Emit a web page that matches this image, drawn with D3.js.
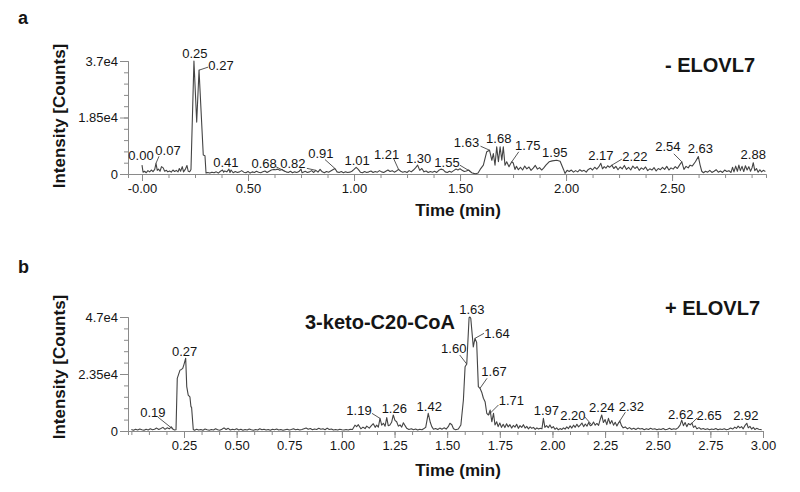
<!DOCTYPE html>
<html>
<head>
<meta charset="utf-8">
<title>ELOVL7 chromatograms</title>
<style>
  body { margin: 0; background: #fff; }
  svg text { font-family: "Liberation Sans", Arial, sans-serif; }
</style>
</head>
<body>
<svg id="chart" width="800" height="492"></svg>
<script src="https://cdn.jsdelivr.net/npm/d3@7"></script>
<script>
// ---- data: [time (min), intensity (counts)] ----
var traceA = [
  [0.000,2900],[0.005,600],[0.012,900],[0.020,400],[0.028,1100],[0.036,700],[0.044,1300],[0.052,800],[0.060,1500],[0.066,3500],
  [0.072,1200],[0.078,1600],[0.085,900],[0.092,2400],[0.100,2000],[0.107,900],[0.115,1200],[0.122,700],[0.130,1000],[0.138,600],
  [0.146,1300],[0.154,800],[0.162,1200],[0.170,700],[0.176,1800],[0.182,900],[0.190,2400],[0.196,700],[0.204,1500],[0.212,2800],
  [0.218,900],[0.225,700],[0.231,1500],[0.245,37000],[0.258,17000],[0.269,34000],[0.289,6200],[0.297,6000],[0.302,300],
  [0.310,500],[0.320,300],[0.330,600],[0.340,400],[0.350,700],[0.360,300],[0.370,900],[0.380,1300],[0.385,600],[0.390,1000],
  [0.400,700],[0.410,1600],[0.415,500],[0.420,1300],[0.430,400],[0.440,800],[0.450,500],[0.460,700],[0.470,1100],[0.480,600],
  [0.490,400],[0.500,800],[0.510,300],[0.520,700],[0.530,500],[0.540,900],[0.550,600],[0.560,400],[0.570,700],[0.580,1000],
  [0.590,500],[0.600,900],[0.610,1300],[0.620,1500],[0.630,1400],[0.640,1600],[0.650,1200],[0.660,1500],[0.670,1000],[0.680,700],
  [0.690,500],[0.700,900],[0.710,400],[0.720,700],[0.730,500],[0.740,800],[0.750,1600],[0.755,400],[0.760,600],[0.770,900],
  [0.780,500],[0.790,700],[0.800,1100],[0.810,500],[0.820,1200],[0.830,600],[0.840,1500],[0.850,700],[0.860,400],[0.870,800],
  [0.880,600],[0.890,1000],[0.900,1400],[0.910,1800],[0.920,700],[0.930,500],[0.940,800],[0.950,400],[0.960,700],[0.970,500],
  [0.980,600],[0.990,900],[1.000,1500],[1.010,2200],[1.020,1500],[1.030,600],[1.040,400],[1.050,800],[1.060,500],[1.070,700],
  [1.080,1000],[1.090,500],[1.100,800],[1.110,600],[1.120,1100],[1.130,700],[1.140,500],[1.150,900],[1.160,1300],[1.170,800],
  [1.180,1100],[1.190,600],[1.200,1000],[1.210,1500],[1.220,900],[1.230,600],[1.240,800],[1.250,500],[1.260,1100],[1.270,700],
  [1.280,1300],[1.290,2000],[1.300,2900],[1.310,1200],[1.320,1800],[1.330,700],[1.340,1000],[1.350,500],[1.360,800],[1.370,600],
  [1.380,900],[1.390,500],[1.400,1200],[1.410,1600],[1.420,1400],[1.430,700],[1.440,500],[1.450,900],[1.460,600],[1.470,1100],
  [1.480,1600],[1.490,1300],[1.500,1700],[1.510,1200],[1.520,800],[1.530,1000],[1.540,1300],[1.547,900],[1.555,400],[1.565,200],
  [1.575,100],[1.585,300],[1.595,1500],[1.610,2900],[1.626,7300],[1.639,7800],[1.650,4500],[1.657,6700],[1.665,2900],[1.673,8900],
  [1.681,4000],[1.689,8900],[1.697,4500],[1.704,8900],[1.712,2900],[1.720,4000],[1.731,2400],[1.737,3200],[1.744,4000],[1.751,3600],
  [1.759,1500],[1.766,2500],[1.775,1400],[1.785,2200],[1.795,1300],[1.805,2600],[1.815,1700],[1.825,2300],[1.835,1200],[1.845,1900],
  [1.855,2800],[1.865,1600],[1.875,2100],[1.885,1300],[1.895,2000],[1.905,2900],[1.920,4000],[1.935,4300],[1.956,4500],[1.972,4200],
  [1.988,1500],[1.995,200],[2.005,1200],[2.015,800],[2.025,1300],[2.035,600],[2.045,1100],[2.055,700],[2.065,1400],[2.075,900],
  [2.085,1200],[2.095,600],[2.105,1500],[2.115,1900],[2.125,1300],[2.135,2200],[2.145,1600],[2.155,2400],[2.164,3500],[2.172,1700],
  [2.180,2400],[2.188,1900],[2.196,2700],[2.205,2200],[2.216,2900],[2.225,1800],[2.235,2500],[2.245,1400],[2.255,2300],[2.265,1700],
  [2.275,2800],[2.285,1500],[2.295,2200],[2.305,1300],[2.315,2600],[2.325,1800],[2.335,2400],[2.345,1200],[2.355,2000],[2.365,1500],
  [2.375,2300],[2.385,1100],[2.395,1700],[2.405,1300],[2.415,2100],[2.425,1000],[2.435,1800],[2.445,1400],[2.455,2200],[2.465,1500],
  [2.475,2500],[2.485,1300],[2.495,2000],[2.505,1600],[2.515,2400],[2.525,1800],[2.535,2900],[2.546,4000],[2.556,1500],[2.566,2500],
  [2.576,2000],[2.585,2900],[2.595,2600],[2.610,4000],[2.624,5700],[2.632,3000],[2.640,900],[2.648,400],[2.658,900],[2.668,600],
  [2.678,1200],[2.688,500],[2.698,900],[2.708,1400],[2.718,600],[2.728,1000],[2.738,500],[2.748,1300],[2.758,800],[2.768,1100],
  [2.778,500],[2.785,2200],[2.792,700],[2.800,2600],[2.808,900],[2.815,2900],[2.822,1100],[2.830,2500],[2.838,800],[2.846,2700],
  [2.854,1300],[2.862,2400],[2.870,900],[2.877,2000],[2.883,3700],[2.890,1100],[2.898,1800],[2.906,600],[2.914,1400],[2.922,700],
  [2.930,1200],[2.940,800]
];

var traceB = [
  [0.000,600],[0.010,300],[0.020,700],[0.030,400],[0.040,800],[0.050,500],[0.060,300],[0.070,700],[0.080,400],[0.090,900],
  [0.100,500],[0.110,700],[0.120,1200],[0.130,600],[0.140,1000],[0.150,1500],[0.160,700],[0.170,1300],[0.180,900],[0.190,1700],
  [0.197,800],[0.205,400],[0.212,500],[0.218,21700],[0.231,25100],[0.238,25400],[0.244,25800],[0.250,27500],[0.258,30000],[0.263,18300],
  [0.270,14800],[0.278,14100],[0.283,10000],[0.286,9800],[0.294,600],[0.300,300],
  [0.310,700],[0.320,400],[0.330,600],[0.340,300],[0.350,800],[0.360,500],[0.370,300],[0.380,600],[0.390,400],[0.400,900],
  [0.410,500],[0.420,300],[0.430,700],[0.440,1300],[0.450,600],[0.460,1100],[0.470,400],[0.480,700],[0.490,500],[0.500,900],
  [0.510,400],[0.520,700],[0.530,300],[0.540,600],[0.550,400],[0.560,800],[0.570,500],[0.580,300],[0.590,600],[0.600,400],
  [0.610,900],[0.620,500],[0.630,700],[0.640,400],[0.650,600],[0.660,300],[0.670,700],[0.680,500],[0.690,800],[0.700,400],
  [0.710,600],[0.720,300],[0.730,500],[0.740,700],[0.750,400],[0.760,600],[0.770,900],[0.780,500],[0.790,700],[0.800,400],
  [0.810,600],[0.820,900],[0.830,1200],[0.840,700],[0.850,1000],[0.860,500],[0.870,800],[0.880,600],[0.890,1100],[0.900,700],
  [0.910,900],[0.920,500],[0.930,1200],[0.940,600],[0.950,800],[0.960,400],[0.970,600],[0.980,400],[0.990,700],[1.000,500],
  [1.010,400],[1.020,600],[1.030,400],[1.040,700],[1.050,600],[1.062,2400],[1.070,1800],[1.078,2600],[1.090,900],[1.100,1600],
  [1.110,1000],[1.118,2000],[1.130,1200],[1.140,2200],[1.149,3000],[1.158,1500],[1.165,2400],[1.173,1600],[1.181,5200],[1.189,2400],
  [1.197,3200],[1.205,2000],[1.213,5500],[1.220,2200],[1.228,2500],[1.236,3600],[1.244,6600],[1.252,4400],[1.260,3800],[1.268,2000],
  [1.276,2500],[1.284,1600],[1.292,3400],[1.300,2200],[1.308,1100],[1.318,600],[1.330,900],[1.340,500],[1.350,800],[1.360,400],
  [1.370,700],[1.380,500],[1.388,900],[1.398,1500],[1.410,7300],[1.420,3500],[1.427,1800],[1.435,700],[1.445,1000],[1.455,600],
  [1.465,1200],[1.475,700],[1.485,1300],[1.495,800],[1.505,1800],[1.513,3200],[1.522,2600],[1.530,900],[1.540,500],[1.553,800],
  [1.565,2500],[1.577,12800],[1.585,26500],[1.593,27600],[1.604,46700],[1.608,47000],[1.612,46500],[1.624,34700],[1.632,38200],[1.640,36500],
  [1.648,18300],[1.656,17600],[1.664,16000],[1.672,13500],[1.680,12100],[1.688,7300],[1.696,6600],[1.704,8600],[1.712,3800],[1.720,7300],
  [1.727,2500],[1.735,3800],[1.742,1800],[1.750,3300],[1.758,1500],[1.766,2800],[1.774,1400],[1.782,3000],[1.790,1700],[1.798,2600],
  [1.806,1200],[1.814,2300],[1.822,1600],[1.830,2800],[1.838,1100],[1.846,2200],[1.854,1500],[1.862,2600],[1.870,1200],[1.878,1900],
  [1.886,900],[1.894,1700],[1.902,1100],[1.910,1500],[1.918,700],[1.926,1300],[1.934,800],[1.942,1100],[1.950,900],[1.957,5200],
  [1.964,1500],[1.972,2200],[1.980,1400],[1.988,2500],[1.996,1200],[2.004,1800],[2.012,700],[2.020,1300],[2.028,500],[2.036,1000],
  [2.044,600],[2.052,1300],[2.060,800],[2.068,1700],[2.076,1000],[2.084,2100],[2.092,1200],[2.100,2400],[2.108,1500],[2.116,2800],
  [2.124,1700],[2.132,2400],[2.140,3300],[2.148,1800],[2.156,2900],[2.164,2000],[2.172,3500],[2.180,2200],[2.187,2500],[2.195,3700],
  [2.203,2400],[2.211,3100],[2.219,2300],[2.227,4800],[2.234,6600],[2.242,3500],[2.250,4700],[2.258,2600],[2.266,5200],[2.274,3000],
  [2.282,4300],[2.290,2400],[2.298,3600],[2.306,2100],[2.313,3200],[2.320,4100],[2.328,2200],[2.336,1300],[2.346,1700],[2.356,900],
  [2.366,1400],[2.376,700],[2.386,1100],[2.396,600],[2.406,1200],[2.416,800],[2.426,1000],[2.436,500],[2.446,900],[2.456,600],
  [2.466,1100],[2.476,700],[2.486,900],[2.496,500],[2.506,800],[2.516,600],[2.526,1000],[2.536,500],[2.546,700],[2.556,1100],
  [2.566,600],[2.576,900],[2.586,700],[2.596,1300],[2.606,2400],[2.614,4500],[2.622,2200],[2.630,3500],[2.638,1800],[2.646,3100],
  [2.654,2500],[2.662,3300],[2.670,1500],[2.678,2100],[2.686,900],[2.696,1400],[2.706,700],[2.716,1000],[2.726,600],[2.736,900],
  [2.746,500],[2.756,800],[2.766,600],[2.776,1000],[2.786,500],[2.796,800],[2.806,600],[2.816,900],[2.826,500],[2.836,700],
  [2.846,1200],[2.856,800],[2.866,1600],[2.874,1100],[2.882,2000],[2.890,1300],[2.898,1800],[2.906,900],[2.914,2200],[2.923,3200],
  [2.930,1300],[2.938,1900],[2.946,800],[2.954,1500],[2.962,600],[2.970,1100],[2.980,700],[2.994,500]
];

// peak annotations (text and the retention time they point at)
var peakLabelsA = ["0.00","0.07","0.25","0.27","0.41","0.68","0.82","0.91","1.01","1.21","1.30","1.55","1.63","1.68","1.75","1.95","2.17","2.22","2.54","2.63","2.88"];
var peakTimesA  = [0.000,0.066,0.245,0.269,0.410,0.680,0.820,0.910,1.010,1.210,1.300,1.547,1.639,1.673,1.744,1.956,2.164,2.216,2.546,2.624,2.883];
var peakLabelsB = ["0.19","0.27","1.19","1.26","1.42","1.60","1.63","1.64","1.67","1.71","1.97","2.20","2.24","2.32","2.62","2.65","2.92"];
var peakTimesB  = [0.197,0.258,1.181,1.244,1.410,1.593,1.608,1.632,1.656,1.696,1.957,2.187,2.234,2.313,2.614,2.654,2.923];

// axis ticks
var xTicksA = [0, 0.5, 1, 1.5, 2, 2.5];
var xTickTextA = ["-0.00","0.50","1.00","1.50","2.00","2.50"];
var yTicksA = [0, 18500, 37000];
var yTickTextA = ["0","1.85e4","3.7e4"];
var xTicksB = [0.25,0.5,0.75,1,1.25,1.5,1.75,2,2.25,2.5,2.75,3];
var xTickTextB = ["0.25","0.50","0.75","1.00","1.25","1.50","1.75","2.00","2.25","2.50","2.75","3.00"];
var yTicksB = [0, 23500, 47000];
var yTickTextB = ["0","2.35e4","4.7e4"];

// label placement relative to the anchor point: [dx, dy, leaderEnd or null]
var layoutA = [[-1,-10,null],[12,-13,[3,-7]],[1,-8,null],[22,-5,[9,-3]],[-3,-7,null],[-22,-9,[-10,-5]],[-23,-7,[-9,-2]],
  [-14,-15,[-10,-9]],[1,-7,null],[-12,-15,[-5,-11]],[1,-7,null],[-23,-9,[-10,-6]],[-23,-8,[-9,-4]],[2,-8,null],
  [16,-16,[7,-10]],[-2,-8,null],[0,-8,null],[23,-9,[10,-6]],[-14,-15,[-8,-8]],[2,-8,null],[0,-8,null]];
var layoutB = [[-20,-17,[-15,-12]],[-1,-7,null],[-21,-8,[-8,-5]],[1,-7,null],[1,-7,null],[-13,-16,[-7,-9]],[2,-8,null],
  [22,-5,[9,-5]],[14,-17,[7,-10]],[23,-15,[10,-10]],[3,-8,null],[-19,-10,[-7,-8]],[0,-8,null],[13,-17,[7,-11]],
  [-1,-6,null],[19,-10,[7,-7]],[-1,-8,null]];

var svg = d3.select("#chart");
var axisColor = "#8a8a8a", lineColor = "#444", textColor = "#151515";

var panels = [
  { trace: traceA, labels: peakLabelsA, times: peakTimesA, layout: layoutA,
    x: d3.scaleLinear().domain([-0.066, 2.943]).range([128, 766]),
    y: d3.scaleLinear().domain([0, 37000]).range([174, 61]),
    xTicks: xTicksA, xText: xTickTextA, xMinor: d3.range(0.125, 2.9, 0.125),
    yTicks: yTicksA, yText: yTickTextA,
    letter: "a", letterY: 18, yTitleY: 116, xTitleY: 210 },
  { trace: traceB, labels: peakLabelsB, times: peakTimesB, layout: layoutB,
    x: d3.scaleLinear().domain([-0.016, 3.0]).range([128, 763]),
    y: d3.scaleLinear().domain([0, 47000]).range([431, 317]),
    xTicks: xTicksB, xText: xTickTextB, xMinor: d3.range(0, 3.0, 0.25 / 3),
    yTicks: yTicksB, yText: yTickTextB,
    letter: "b", letterY: 267, yTitleY: 367, xTitleY: 470 }
];

panels.forEach(function (p) {
  var g = svg.append("g");
  var y0 = p.y(0);

  // minor ticks
  var yMinor = d3.range(11).map(function (i) { return p.y.domain()[1] * i / 10; });
  g.append("g").attr("transform", "translate(" + p.x.range()[0] + ",0)")
    .call(d3.axisLeft(p.y).tickValues(yMinor).tickSize(4).tickFormat(""));
  g.append("g").attr("transform", "translate(0," + y0 + ")")
    .call(d3.axisBottom(p.x).tickValues(p.xMinor).tickSize(4).tickFormat(""));

  // major axes
  g.append("g").attr("transform", "translate(" + p.x.range()[0] + ",0)")
    .call(d3.axisLeft(p.y).tickValues(p.yTicks).tickSize(8).tickSizeOuter(0).tickPadding(2)
      .tickFormat(function (d, i) { return p.yText[i]; }));
  g.append("g").attr("transform", "translate(0," + y0 + ")")
    .call(d3.axisBottom(p.x).tickValues(p.xTicks).tickSize(7).tickSizeOuter(0).tickPadding(3)
      .tickFormat(function (d, i) { return p.xText[i]; }));

  g.selectAll("path.domain, .tick line").attr("stroke", axisColor);
  g.selectAll(".tick text").attr("fill", textColor).attr("font-size", 13)
    .attr("font-family", "'Liberation Sans', Arial, sans-serif");

  // trace
  var line = d3.line().x(function (d) { return p.x(d[0]); }).y(function (d) { return p.y(d[1]); });
  g.append("path").datum(p.trace).attr("d", line)
    .attr("fill", "none").attr("stroke", lineColor).attr("stroke-width", 1.1).attr("stroke-linejoin", "round");

  // peak labels
  p.labels.forEach(function (txt, i) {
    var t = p.times[i];
    var pt = p.trace.reduce(function (a, b) { return Math.abs(b[0] - t) < Math.abs(a[0] - t) ? b : a; });
    var ax = p.x(pt[0]), ay = p.y(pt[1]);
    var lay = p.layout[i];
    if (lay[2]) {
      g.append("line").attr("x1", ax).attr("y1", ay)
        .attr("x2", ax + lay[2][0]).attr("y2", ay + lay[2][1])
        .attr("stroke", lineColor).attr("stroke-width", 0.9);
    }
    g.append("text").attr("x", ax + lay[0]).attr("y", ay + lay[1]).attr("dy", "0.36em")
      .attr("text-anchor", "middle").attr("font-size", 13).attr("fill", textColor).text(txt);
  });

  // titles
  g.append("text").attr("transform", "translate(59," + p.yTitleY + ") rotate(-90)")
    .attr("text-anchor", "middle").attr("dy", "0.36em").attr("font-size", 17).attr("font-weight", "bold")
    .attr("fill", textColor).text("Intensity [Counts]");
  g.append("text").attr("x", 458).attr("y", p.xTitleY).attr("dy", "0.36em").attr("text-anchor", "middle")
    .attr("font-size", 17).attr("font-weight", "bold").attr("fill", textColor).text("Time (min)");
  g.append("text").attr("x", 18).attr("y", p.letterY).attr("dy", "0.36em")
    .attr("font-size", 18).attr("font-weight", "bold").attr("fill", textColor).text(p.letter);
});

svg.append("text").attr("x", 665).attr("y", 65).attr("dy", "0.36em").attr("font-size", 20)
  .attr("font-weight", "bold").attr("fill", textColor).text("- ELOVL7");
svg.append("text").attr("x", 665).attr("y", 308).attr("dy", "0.36em").attr("font-size", 20)
  .attr("font-weight", "bold").attr("fill", textColor).text("+ ELOVL7");
svg.append("text").attr("x", 305).attr("y", 322).attr("dy", "0.36em").attr("font-size", 20)
  .attr("font-weight", "bold").attr("fill", textColor).text("3-keto-C20-CoA");
</script>
</body>
</html>
